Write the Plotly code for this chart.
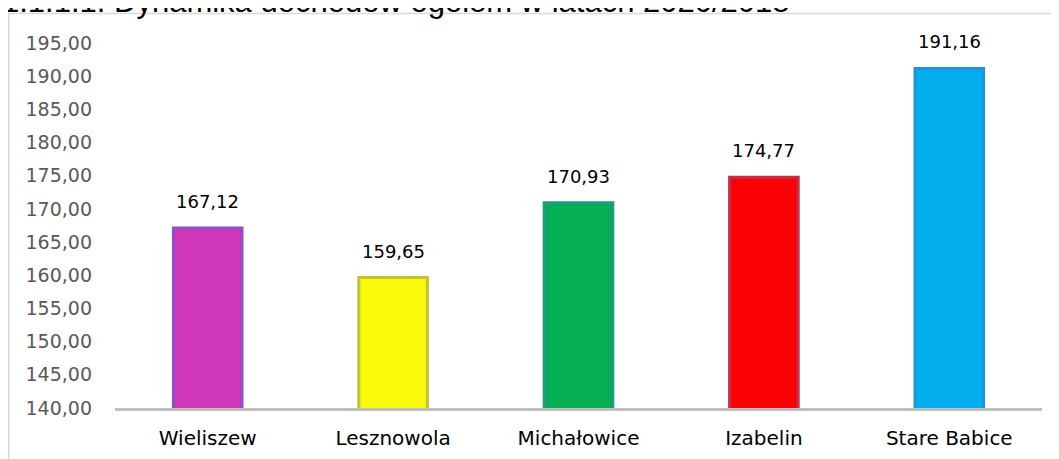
import plotly.graph_objects as go

categories = ["Wieliszew", "Lesznowola", "Michałowice", "Izabelin", "Stare Babice"]
values = [167.12, 159.65, 170.93, 174.77, 191.16]
value_labels = ["167,12", "159,65", "170,93", "174,77", "191,16"]
fill_colors = ["#CF36B8", "#FAFA0A", "#04AE52", "#FB0205", "#03AEEE"]
edge_colors = ["#9050C6", "#C2C23A", "#1F9A86", "#C42E4A", "#1E92DA"]
tick_vals = [140, 145, 150, 155, 160, 165, 170, 175, 180, 185, 190, 195]
title_text = "1.1.1.1. Dynamika dochodów ogółem w latach 2020/2018"

# page has an 8px body margin, so the figure is offset by 8px
OFF = 8
W, H = 1059 - OFF, 459 - OFF
ml, mr, mt, mb = 115 - OFF, 17, 43 - OFF, 51
pw = W - ml - mr
ph = H - mt - mb

fig = go.Figure()
fig.add_trace(go.Bar(
    x=categories, y=values,
    marker=dict(color=fill_colors, line=dict(color=edge_colors, width=3)),
    width=0.37,
    hoverinfo="skip",
))

for c, v, t in zip(categories, values, value_labels):
    fig.add_annotation(x=c, y=v, text=t, showarrow=False, yanchor="bottom",
                       yshift=14, font=dict(family="DejaVu Sans", size=18, color="#000000"))

# title (partly cut at top of page)
fig.add_annotation(xref="paper", yref="paper", x=(0 - OFF - ml) / pw, y=1 + (mt - 13) / ph,
                   xanchor="left", yanchor="bottom", showarrow=False,
                   text=title_text, font=dict(family="Liberation Sans", size=31, color="#000000"))

# chart frame
fig.add_shape(type="rect", xref="paper", yref="paper",
              x0=(0.75 - ml) / pw, x1=1.2, y0=-0.5, y1=1 + (mt - 5.5) / ph,
              line=dict(color="#D9D9D9", width=1.5), fillcolor="rgba(0,0,0,0)", layer="below")

fig.update_layout(
    width=W, height=H,
    margin=dict(l=ml, r=mr, t=mt, b=mb, autoexpand=False),
    paper_bgcolor="white", plot_bgcolor="white",
    separators=", ",
    showlegend=False,
    xaxis=dict(showgrid=False, showline=True, linecolor="#C0C0C0", linewidth=3,
               ticks="", tickfont=dict(family="DejaVu Sans", size=20, color="#000000"),
               ticklabelstandoff=10, range=[-0.5, 4.5], automargin=False),
    yaxis=dict(range=[140, 195], showgrid=False, zeroline=False, showline=False,
               tickvals=tick_vals, tickformat=".2f", ticks="",
               tickfont=dict(family="DejaVu Sans", size=19, color="#595959"),
               ticklabelstandoff=22, automargin=False),
)

fig.write_html("out.html")
